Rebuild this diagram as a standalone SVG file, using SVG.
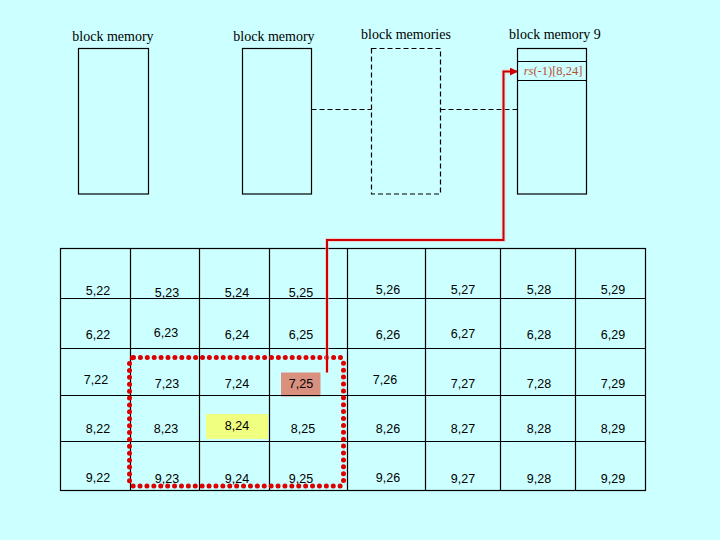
<svg xmlns="http://www.w3.org/2000/svg" width="720" height="540" viewBox="0 0 720 540">
<style>
.lbl{font-family:"Liberation Serif","Times New Roman",serif;font-size:14px;fill:#000;text-anchor:middle}
.box{fill:none;stroke:#000;stroke-width:1.2}
.dash{fill:none;stroke:#000;stroke-width:1.2;stroke-dasharray:5 3}
.grid{fill:none;stroke:#000;stroke-width:1.2}
.cell{font-family:"Liberation Sans",Arial,sans-serif;font-size:12.5px;fill:#000;text-anchor:middle}
</style>
<defs>
<marker id="arr" viewBox="0 0 10 10" refX="9" refY="5" markerWidth="4" markerHeight="4" orient="auto" markerUnits="strokeWidth">
<path d="M0,0 L10,5 L0,10 Z" fill="#cc0000"/>
</marker>
</defs>
<rect width="720" height="540" fill="#ccffff"/>

<g id="bm1">
<rect class="box" x="78.5" y="48.5" width="70" height="145.5"/>
<text class="lbl" x="113" y="41">block memory</text>
</g>
<g id="bm2">
<rect class="box" x="242.5" y="48.5" width="69" height="145.5"/>
<text class="lbl" x="274" y="41">block memory</text>
</g>
<g id="bms">
<rect class="dash" x="371.5" y="48.5" width="69" height="145.5"/>
<text class="lbl" x="406" y="39">block memories</text>
</g>
<g id="bm9">
<rect class="box" x="517.5" y="48.5" width="69" height="145.5"/>
<line class="box" x1="517.5" y1="61.5" x2="586.5" y2="61.5"/>
<line class="box" x1="517.5" y1="80.5" x2="586.5" y2="80.5"/>
<text class="lbl" x="555" y="39">block memory 9</text>
<text x="553" y="75" style="font-family:'Liberation Serif','Times New Roman',serif;font-size:12.5px;fill:#b85030;text-anchor:middle"><tspan font-style="italic">rs</tspan>(-1)[8,24]</text>
</g>

<g id="grid">
<rect x="206" y="414" width="62" height="25" fill="#f0ff80"/>
<rect x="281" y="372.5" width="39.5" height="24" fill="#d9907e"/>
<rect class="grid" x="60.5" y="248.5" width="585" height="242"/>
<line class="grid" x1="130.5" y1="248.5" x2="130.5" y2="490.5"/>
<line class="grid" x1="199.5" y1="248.5" x2="199.5" y2="490.5"/>
<line class="grid" x1="269.5" y1="248.5" x2="269.5" y2="490.5"/>
<line class="grid" x1="347.5" y1="248.5" x2="347.5" y2="490.5"/>
<line class="grid" x1="425.5" y1="248.5" x2="425.5" y2="490.5"/>
<line class="grid" x1="500.5" y1="248.5" x2="500.5" y2="490.5"/>
<line class="grid" x1="575.5" y1="248.5" x2="575.5" y2="490.5"/>
<line class="grid" x1="60.5" y1="298.5" x2="645.5" y2="298.5"/>
<line class="grid" x1="60.5" y1="348.5" x2="645.5" y2="348.5"/>
<line class="grid" x1="60.5" y1="395.5" x2="645.5" y2="395.5"/>
<line class="grid" x1="60.5" y1="441.5" x2="645.5" y2="441.5"/>

<text class="cell" x="98" y="295">5,22</text>
<text class="cell" x="167" y="297">5,23</text>
<text class="cell" x="237" y="297">5,24</text>
<text class="cell" x="301" y="297">5,25</text>
<text class="cell" x="388" y="294">5,26</text>
<text class="cell" x="463" y="294">5,27</text>
<text class="cell" x="539" y="294">5,28</text>
<text class="cell" x="613" y="294">5,29</text>

<text class="cell" x="98" y="339">6,22</text>
<text class="cell" x="166" y="337">6,23</text>
<text class="cell" x="237" y="339">6,24</text>
<text class="cell" x="301" y="339">6,25</text>
<text class="cell" x="388" y="339">6,26</text>
<text class="cell" x="463" y="338">6,27</text>
<text class="cell" x="539" y="339">6,28</text>
<text class="cell" x="613" y="339">6,29</text>

<text class="cell" x="96" y="384">7,22</text>
<text class="cell" x="167" y="388">7,23</text>
<text class="cell" x="237" y="388">7,24</text>
<text class="cell" x="301" y="388">7,25</text>
<text class="cell" x="385" y="384">7,26</text>
<text class="cell" x="463" y="388">7,27</text>
<text class="cell" x="539" y="388">7,28</text>
<text class="cell" x="613" y="388">7,29</text>

<text class="cell" x="98" y="433">8,22</text>
<text class="cell" x="166" y="433">8,23</text>
<text class="cell" x="237" y="430">8,24</text>
<text class="cell" x="303" y="433">8,25</text>
<text class="cell" x="388" y="433">8,26</text>
<text class="cell" x="463" y="433">8,27</text>
<text class="cell" x="539" y="433">8,28</text>
<text class="cell" x="613" y="433">8,29</text>

<text class="cell" x="98" y="482">9,22</text>
<text class="cell" x="167" y="483">9,23</text>
<text class="cell" x="237" y="483">9,24</text>
<text class="cell" x="301" y="483">9,25</text>
<text class="cell" x="388" y="482">9,26</text>
<text class="cell" x="463" y="483">9,27</text>
<text class="cell" x="539" y="483">9,28</text>
<text class="cell" x="613" y="483">9,29</text>
</g>

<g id="connectors">
<line class="dash" x1="311.5" y1="109.5" x2="371.5" y2="109.5"/>
<line class="dash" x1="440.5" y1="109.5" x2="517.5" y2="109.5"/>
<rect x="129.5" y="357.5" width="214" height="128.5" rx="4" fill="none" stroke="#dd0000" stroke-width="5" stroke-linecap="round" stroke-dasharray="0 6.9"/>
<polyline points="327,372.5 327,240 503.5,240 503.5,71.5 516,71.5" fill="none" stroke="#ffaaaa" stroke-width="4" stroke-opacity="0.5"/>
<polyline points="327,372.5 327,240 503.5,240 503.5,71.5 517,71.5" fill="none" stroke="#cc0000" stroke-width="2" marker-end="url(#arr)"/>
</g>
</svg>
